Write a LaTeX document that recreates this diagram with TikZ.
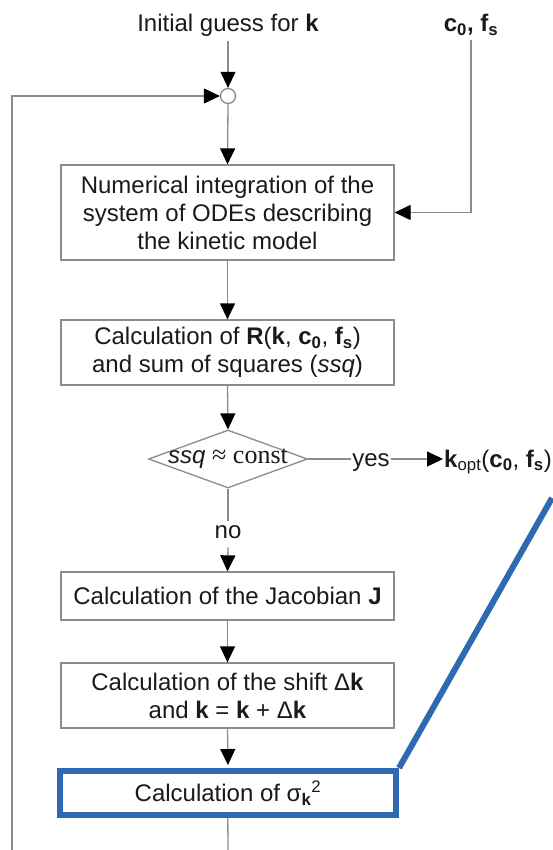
\documentclass[tikz,border=0pt]{standalone}
\usepackage{fontspec}
\setmainfont{Liberation Sans}
\newfontfamily\serifff{Liberation Serif}
\usetikzlibrary{arrows.meta,shapes.geometric}
\definecolor{lg}{HTML}{8C8C8C}
\definecolor{bl}{HTML}{2E6AB1}
\definecolor{txt}{HTML}{1A1A1A}
\begin{document}
\begin{tikzpicture}[x=1pt,y=-1pt,
  every node/.style={font=\fontsize{24}{28}\selectfont, text=txt},
  line/.style={draw=lg, line width=1.3pt},
  arr/.style={line, -{Triangle[length=16pt,width=15pt,color=black]}},
  box/.style={draw=lg, line width=1.3pt, fill=white, minimum width=333pt, align=center, inner sep=2pt},
  lbl/.style={inner sep=1pt}]
\useasboundingbox (0,0) rectangle (552,850);
\fill[white] (0,0) rectangle (552,850);

% nodes
\node[lbl, inner sep=4pt, anchor=base] (title) at (228,32) {Initial guess for \textbf{k}};
\node[lbl, inner sep=4pt, anchor=base] (cfs) at (471,32) {\textbf{c\textsubscript{0}, f\textsubscript{s}}};
\node[circle, draw=lg, line width=1.3pt, fill=white, minimum size=15pt, inner sep=0pt] (circ) at (228,96) {};
\node[box, minimum height=95pt] (b1) at (227.5,212.5) {Numerical integration of the\\system of ODEs describing\\the kinetic model};
\node[box, minimum height=65pt] (b2) at (227.5,352.5) {Calculation of \textbf{R}(\textbf{k}, \textbf{c\textsubscript{0}}, \textbf{f\textsubscript{s}})\\and sum of squares (\textit{ssq})};
\node[diamond, draw=lg, line width=1.3pt, minimum width=159pt, minimum height=58pt, inner sep=0pt] (dia) at (228,459) {};
\node[lbl] (diat) at (228,459) {\textit{ssq} {\serifff\fontsize{26}{28}\selectfont ≈ const}};
\node[lbl, anchor=base] (yes) at (371,466) {yes};
\node[lbl, anchor=base west] (kopt) at (443,467) {\textbf{k}\textsubscript{opt}(\textbf{c\textsubscript{0}}, \textbf{f\textsubscript{s}})};
\node[lbl, inner sep=4pt, anchor=base] (no) at (228,538) {no};
\node[box, minimum height=48pt] (b3) at (227.5,596) {Calculation of the Jacobian \textbf{J}};
\node[box, minimum height=65pt] (b4) at (227.5,695.5) {Calculation of the shift Δ\textbf{k}\\and \textbf{k} = \textbf{k} + Δ\textbf{k}};
\coordinate (bb) at (228,850);
\coordinate (lb) at (12,850);
\coordinate (be) at (552,498);

% connectors
\draw[line] (b4.south) ++(0,40) -- (bb);
\node[draw=bl, line width=6pt, fill=white, minimum width=336pt, minimum height=44pt, inner sep=0pt] (b5) at (228,793) {Calculation of σ\textsubscript{\textbf{k}}\textsuperscript{2}};
\draw[arr] (title.south) -- (circ.north);
\draw[arr] (lb) |- (circ.west);
\draw[arr] (circ.south) -- (b1.north);
\draw[arr] (cfs.south) |- (b1.east);
\draw[arr] (b1.south) -- (b2.north);
\draw[arr] (b2.south) -- (dia.north);
\draw[line] (dia.east) -- (yes.west |- dia.east);
\draw[arr] (yes.east |- dia.east) -- (kopt.west |- dia.east);
\draw[line] (dia.south) -- (no.north);
\draw[arr] ([yshift=-5pt]no.south) -- (b3.north);
\draw[arr] (b3.south) -- (b4.north);
\draw[arr, shorten >=3pt] (b4.south) -- (b5.north);
\draw[draw=bl, line width=6pt] (b5.north east) -- (be);
\end{tikzpicture}
\end{document}
